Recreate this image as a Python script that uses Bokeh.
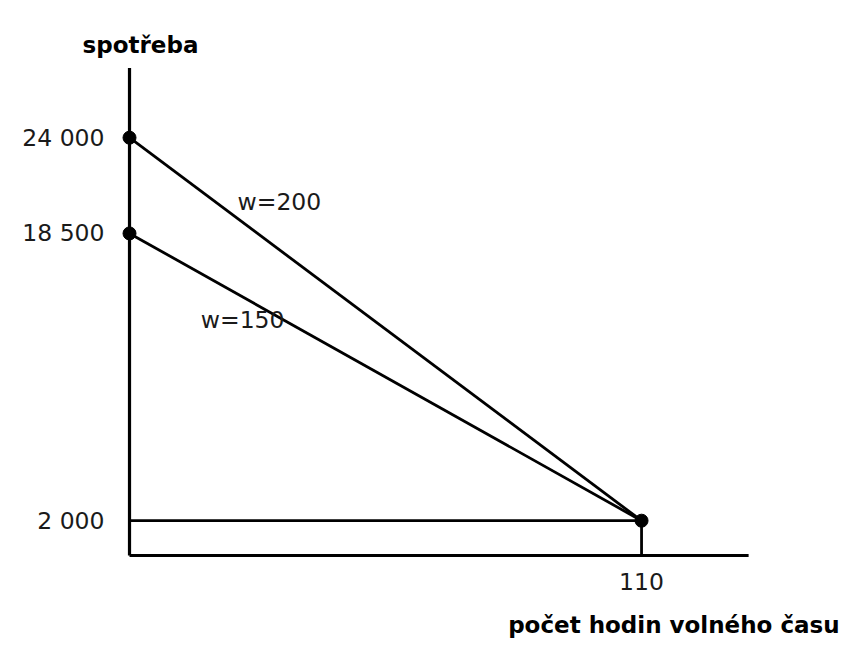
from bokeh.plotting import figure
from bokeh.models import Range1d, ColumnDataSource
from bokeh.core.properties import value
from bokeh.embed import file_html
from bokeh.resources import INLINE

# ---- data ----
y_ticks = [24000, 18500, 2000]
y_tick_labels = ["24 000", "18 500", "2 000"]
x_ticks = [110]
x_tick_labels = ["110"]
max_hours = 110
intercepts = [24000, 18500]          # consumption at zero free time
wage_labels = ["w=200", "w=150"]
nonlabor_income = 2000
x_axis_end = 133
y_axis_end = 28000
y_title = "spotřeba"
x_title = "počet hodin volného času"

W, H = 844, 642
p = figure(width=W, height=H, output_backend="svg", toolbar_location=None,
           x_range=Range1d(-27.715, 153.6), y_range=Range1d(-4997, 31880),
           min_border=0, outline_line_color=None,
           x_axis_type=None, y_axis_type=None)
p.grid.visible = False
p.background_fill_color = "white"
p.border_fill_color = "white"

FONT = value("DejaVu Sans")
TXT = "#1a1a1a"

# axes lines
p.segment(x0=[0, 0], y0=[0, 0], x1=[x_axis_end, 0], y1=[0, y_axis_end],
          line_color="black", line_width=3.2)

# budget lines
src = ColumnDataSource(dict(x0=[0, 0], y0=intercepts,
                            x1=[max_hours] * 2, y1=[nonlabor_income] * 2))
p.segment("x0", "y0", "x1", "y1", source=src, line_color="black", line_width=2.8)
# non-labor income line and drop to axis
p.segment(x0=[0, max_hours], y0=[nonlabor_income, nonlabor_income],
          x1=[max_hours, max_hours], y1=[nonlabor_income, 0],
          line_color="black", line_width=2.8)

# points
p.scatter(x=[0, 0, max_hours], y=intercepts + [nonlabor_income], size=13,
          fill_color="black", line_color="black")

# tick labels
p.text(x=[0] * len(y_ticks), y=y_ticks, text=y_tick_labels, x_offset=-25,
       text_align="right", text_baseline="middle", text_font=FONT,
       text_font_size="23.5px", text_color=TXT)
p.text(x=x_ticks, y=[0] * len(x_ticks), text=x_tick_labels, y_offset=26,
       text_align="center", text_baseline="middle", text_font=FONT,
       text_font_size="23.5px", text_color=TXT)

# wage labels (placed near their lines)
p.text(x=[23.2, 15.3], y=[20334, 13499], text=wage_labels,
       text_align="left", text_baseline="middle", text_font=FONT,
       text_font_size="23.5px", text_color=TXT)

# axis titles
p.text(x=[0], y=[y_axis_end], text=[y_title], x_offset=11, y_offset=-23,
       text_align="center", text_baseline="alphabetic", text_font=FONT,
       text_font_size="23px", text_font_style="bold", text_color="black")
p.text(x=[x_axis_end], y=[0], text=[x_title], x_offset=91, y_offset=69,
       text_align="right", text_baseline="alphabetic", text_font=FONT,
       text_font_size="23px", text_font_style="bold", text_color="black")

open("out.html", "w").write(file_html(p, INLINE))
